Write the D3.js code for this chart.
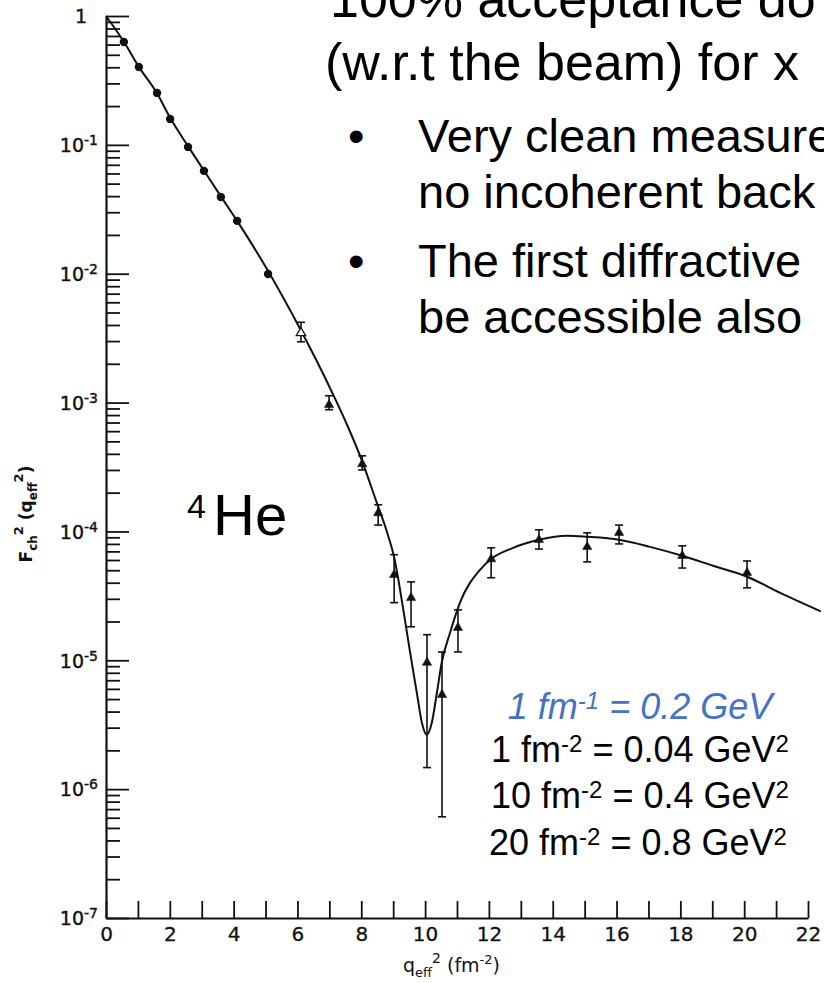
<!DOCTYPE html>
<html><head><meta charset="utf-8">
<script src="https://cdn.jsdelivr.net/npm/d3@7"></script>
<style>body{margin:0;background:#fff}svg{display:block}</style>
</head><body>
<svg id="c" width="824" height="983"></svg>
<script>
// ---- data ----
const circleQ = [0.56, 1.03, 1.60, 2.01, 2.57, 3.07, 3.60, 4.11, 5.08];
const circleF = [0.628, 0.402, 0.253, 0.159, 0.0964, 0.0628, 0.0394, 0.0257, 0.00996];

const triQ  = [6.11, 6.99, 8.03, 8.53, 9.03, 9.56, 10.06, 10.53, 11.03, 12.07, 13.57, 15.08, 16.08, 18.06, 20.09];
const triF  = [3.47e-3, 9.6e-4, 3.34e-4, 1.39e-4, 4.6e-5, 3.05e-5, 9.6e-6, 5.4e-6, 1.79e-5, 6.1e-5, 8.6e-5, 7.6e-5, 9.75e-5, 6.47e-5, 4.77e-5];
const triLo = [2.96e-3, 8.8e-4, 3.0e-4, 1.12e-4, 2.8e-5, 1.82e-5, 1.47e-6, 6.1e-7, 1.16e-5, 4.37e-5, 7.3e-5, 5.8e-5, 8.0e-5, 5.2e-5, 3.65e-5];
const triHi = [4.2e-3, 1.13e-3, 3.86e-4, 1.61e-4, 6.6e-5, 4.06e-5, 1.58e-5, 1.16e-5, 2.46e-5, 7.46e-5, 1.03e-4, 9.75e-5, 1.12e-4, 7.73e-5, 5.9e-5];
const triHollow = [1, 0, 0, 0, 0, 0, 0, 0, 0, 0, 0, 0, 0, 0, 0];

const curveQ = [0, 0.56, 1.03, 1.60, 2.01, 2.57, 3.07, 3.60, 4.11, 5.08, 6.11, 6.61, 7.12, 7.55, 8.02, 8.49, 8.80, 9.03, 9.32, 9.53, 9.74, 9.90, 10.05, 10.21, 10.37, 10.52, 10.78, 11.09, 11.72, 12.07, 12.76, 13.57, 14.45, 15.08, 16.08, 17.05, 18.06, 19.03, 20.09, 21.13, 22.40];
const curveF = [1, 0.631, 0.403, 0.251, 0.162, 0.0977, 0.0631, 0.0398, 0.0257, 0.0105, 0.00363, 0.00209, 0.00115, 6.76e-4, 3.55e-4, 1.66e-4, 1.0e-4, 6.31e-5, 2.45e-5, 1.15e-5, 5.62e-6, 3.27e-6, 2.64e-6, 3.27e-6, 5.60e-6, 9.57e-6, 1.63e-5, 2.79e-5, 5.04e-5, 6.12e-5, 7.46e-5, 8.61e-5, 9.25e-5, 9.08e-5, 8.61e-5, 7.59e-5, 6.47e-5, 5.41e-5, 4.45e-5, 3.34e-5, 2.40e-5];

const xTickValues = d3.range(0, 23);          // every integer, labelled when even
const yMajorExp = [0, -1, -2, -3, -4, -5, -6, -7];

// ---- scales ----
const svg = d3.select("#c");
svg.append("rect").attr("width", 824).attr("height", 983).attr("fill", "#fff");
const x = d3.scaleLinear().domain([0, 22]).range([106, 808]);
const y = d3.scaleLog().domain([1e-7, 1]).range([918, 16]);

const axisFont = "DejaVu Sans, Verdana, sans-serif";

// ---- y axis: minor ticks ----
const yMinor = [];
yMajorExp.slice(1).forEach(e => { for (let m = 2; m <= 9; m++) yMinor.push(m * Math.pow(10, e)); });
svg.append("g").attr("transform", `translate(${x(0)},0)`)
  .call(d3.axisLeft(y).tickValues(yMinor).tickSize(-14).tickSizeOuter(0).tickFormat(""))
  .call(g => g.select(".domain").remove())
  .call(g => g.selectAll("line").attr("stroke", "#111").attr("stroke-width", 1.8));

// ---- y axis: major ticks + labels ----
const yAx = svg.append("g").attr("transform", `translate(${x(0)},0)`)
  .call(d3.axisLeft(y).tickValues(yMajorExp.map(e => Math.pow(10, e))).tickSize(-23).tickSizeOuter(0).tickPadding(8).tickFormat(""));
yAx.attr("font-size", null);
yAx.select(".domain").attr("stroke", "#111").attr("stroke-width", 2.2);
yAx.selectAll("line").attr("stroke", "#111").attr("stroke-width", 1.8);
yAx.selectAll(".tick text").each(function (d) {
  const e = Math.round(Math.log10(d));
  const t = d3.select(this).attr("font-family", axisFont).style("font-size", "19px")
    .attr("fill", "#111").attr("stroke", "#111").attr("stroke-width", 0.4).attr("dy", "0.36em");
  if (e === 0) { t.text("1").attr("x", -19); }
  else {
    t.append("tspan").text("10");
    t.append("tspan").text("-" + (-e)).style("font-size", "14px").attr("dy", -7);
  }
});

// ---- x axis ----
const xAx = svg.append("g").attr("transform", `translate(0,${y(1e-7)})`)
  .call(d3.axisBottom(x).tickValues(xTickValues).tickSize(-17).tickSizeOuter(0).tickPadding(9)
    .tickFormat(d => d % 2 === 0 ? d : ""));
xAx.attr("font-size", null);
xAx.select(".domain").attr("stroke", "#111").attr("stroke-width", 2.2);
xAx.selectAll("line").attr("stroke", "#111").attr("stroke-width", 1.8);
xAx.selectAll("text").attr("font-family", axisFont).style("font-size", "20px")
  .attr("fill", "#111").attr("stroke", "#111").attr("stroke-width", 0.3);

// ---- axis titles ----
const yt = svg.append("text").attr("transform", "translate(32,514) rotate(-90)")
  .attr("text-anchor", "middle").attr("font-family", axisFont).style("font-size", "17px")
  .attr("font-weight", "bold").attr("fill", "#111");
yt.append("tspan").text("F");
yt.append("tspan").text("ch").style("font-size", "12px").attr("dy", 5);
yt.append("tspan").text("2").style("font-size", "13px").attr("dy", -14);
yt.append("tspan").text(" (q").attr("dy", 9);
yt.append("tspan").text("eff").style("font-size", "12px").attr("dy", 5);
yt.append("tspan").text("2").style("font-size", "13px").attr("dy", -14);
yt.append("tspan").text(")").attr("dy", 9);

const xt = svg.append("text").attr("x", 403).attr("y", 972)
  .attr("font-family", axisFont).style("font-size", "19px").attr("fill", "#111");
xt.append("tspan").text("q");
xt.append("tspan").text("eff").style("font-size", "13px").attr("dy", 5);
xt.append("tspan").text("2").style("font-size", "14px").attr("dy", -14);
xt.append("tspan").text(" (fm").attr("dy", 9);
xt.append("tspan").text("-2").style("font-size", "13px").attr("dy", -8);
xt.append("tspan").text(")").attr("dy", 8);

// ---- theory curve ----
const curvePts = curveQ.map((q, i) => ({ q, f: curveF[i] }));
svg.append("path").datum(curvePts)
  .attr("d", d3.line().x(d => x(d.q)).y(d => y(d.f)).curve(d3.curveMonotoneX))
  .attr("fill", "none").attr("stroke", "#111").attr("stroke-width", 2);

// ---- circles ----
svg.append("g").selectAll("circle").data(circleQ.map((q, i) => ({ q, f: circleF[i] })))
  .join("circle").attr("cx", d => x(d.q)).attr("cy", d => y(d.f)).attr("r", 4.2).attr("fill", "#111");

// ---- triangles with error bars ----
const tri = triQ.map((q, i) => ({ q, f: triF[i], lo: triLo[i], hi: triHi[i], hollow: triHollow[i] }));
const eb = svg.append("g").attr("stroke", "#111").attr("stroke-width", 1.6);
tri.forEach(d => {
  const cx = x(d.q);
  eb.append("line").attr("x1", cx).attr("x2", cx).attr("y1", y(d.hi)).attr("y2", y(d.lo));
  eb.append("line").attr("x1", cx - 4).attr("x2", cx + 4).attr("y1", y(d.hi)).attr("y2", y(d.hi));
  eb.append("line").attr("x1", cx - 4).attr("x2", cx + 4).attr("y1", y(d.lo)).attr("y2", y(d.lo));
});
svg.append("g").selectAll("path").data(tri).join("path")
  .attr("transform", d => `translate(${x(d.q)},${y(d.f)})`)
  .attr("d", d3.symbol(d3.symbolTriangle, 38))
  .attr("fill", d => d.hollow ? "#fff" : "#111")
  .attr("stroke", "#111").attr("stroke-width", d => d.hollow ? 1.3 : 0.5);

// ---- slide text ----
const slideFont = "Liberation Sans, Arial, Helvetica, sans-serif";
function addText(xp, yp, size, segs, opts = {}) {
  const t = svg.append("text").attr("x", xp).attr("y", yp).attr("font-family", slideFont)
    .style("font-size", size + "px").attr("fill", opts.fill || "#000")
    .attr("text-anchor", opts.anchor || "start").attr("font-style", opts.italic ? "italic" : "normal");
  let shift = 0;
  segs.forEach(s => {
    const sup = typeof s !== "string";
    const txt = sup ? s.sup : s;
    const sp = t.append("tspan").text(txt);
    const target = sup ? -Math.round(size * 0.28) : 0;
    if (target !== shift) { sp.attr("dy", target - shift); shift = target; }
    if (sup) sp.style("font-size", Math.round(size * 0.66) + "px");
  });
  return t;
}
addText(330, 17, 52, ["100% acceptance do"]);
addText(325, 80, 52, ["(w.r.t the beam) for x"]);
addText(348, 152, 47, ["\u2022"]);
addText(418, 152, 47, ["Very clean measure"]);
addText(418, 208, 47, ["no incoherent back"]);
addText(348, 277, 47, ["\u2022"]);
addText(418, 277, 47, ["The first diffractive"]);
addText(418, 333, 47, ["be accessible also"]);

addText(187, 518, 34, ["4"]);
addText(213, 535, 58, ["He"]);

addText(640, 719, 36, ["1 fm", { sup: "-1" }, " = 0.2 GeV"], { fill: "#4472C4", anchor: "middle", italic: true });
addText(640, 762, 36, ["1 fm", { sup: "-2" }, " = 0.04 GeV", { sup: "2" }], { anchor: "middle" });
addText(640, 808, 36, ["10 fm", { sup: "-2" }, " = 0.4 GeV", { sup: "2" }], { anchor: "middle" });
addText(638, 855, 36, ["20 fm", { sup: "-2" }, " = 0.8 GeV", { sup: "2" }], { anchor: "middle" });
</script>
</body></html>
